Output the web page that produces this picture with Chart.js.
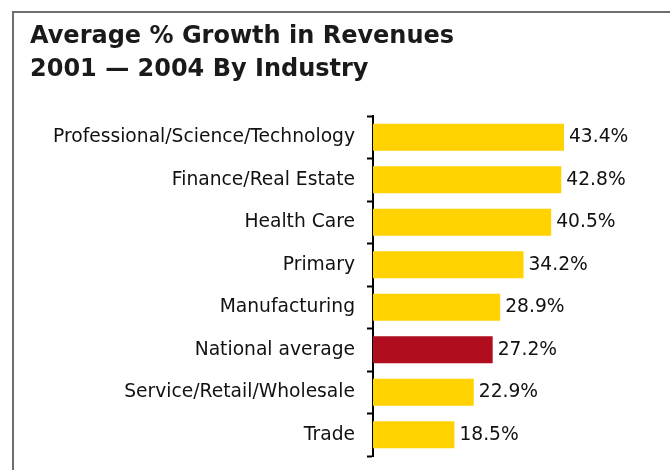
<!DOCTYPE html>
<html>
<head>
<meta charset="utf-8">
<script src="https://cdn.jsdelivr.net/npm/chart.js@4.4.0/dist/chart.umd.min.js"></script>
<style>
  html, body { margin: 0; padding: 0; background: #fff; }
  #wrap { width: 670px; height: 470px; position: relative; }
</style>
</head>
<body>
<div id="wrap"><canvas id="growthChart" width="670" height="470"></canvas></div>
<script>
var industries = ['Professional/Science/Technology', 'Finance/Real Estate', 'Health Care', 'Primary',
  'Manufacturing', 'National average', 'Service/Retail/Wholesale', 'Trade'];
var growth = [43.4, 42.8, 40.5, 34.2, 28.9, 27.2, 22.9, 18.5];
var titleLines = ['Average % Growth in Revenues', '2001 \u2014 2004 By Industry'];

var yellow = '#ffd200';
var red = '#b00d1e';
var barColors = industries.map(function(name){
  return name === 'National average' ? red : yellow;
});

// frame along the top and left edge
var framePlugin = {
  id: 'frame',
  beforeDraw: function(chart){
    var c = chart.ctx;
    c.save();
    c.strokeStyle = '#6e6e6e';
    c.lineWidth = 2;
    c.beginPath();
    c.moveTo(13, 470);
    c.lineTo(13, 12);
    c.lineTo(670, 12);
    c.stroke();
    c.restore();
  }
};

// percentage text at the end of each bar
var valuePlugin = {
  id: 'values',
  afterDatasetsDraw: function(chart){
    var c = chart.ctx;
    var meta = chart.getDatasetMeta(0);
    c.save();
    c.font = '18.7px "DejaVu Sans"';
    c.fillStyle = '#111';
    c.textBaseline = 'middle';
    meta.data.forEach(function(bar, i){
      c.fillText(growth[i].toFixed(1) + '%', bar.x + 5, bar.y);
    });
    c.restore();
  }
};

var ctx = document.getElementById('growthChart');
var chart = new Chart(ctx, {
  type: 'bar',
  data: {
    labels: industries,
    datasets: [{
      data: growth,
      backgroundColor: barColors,
      borderWidth: 0,
      barPercentage: 0.64,
      categoryPercentage: 1
    }]
  },
  options: {
    indexAxis: 'y',
    responsive: false,
    animation: false,
    layout: { padding: { left: 30, right: 33, top: 0, bottom: 14 } },
    plugins: {
      legend: { display: false },
      tooltip: { enabled: false },
      title: {
        display: true,
        text: titleLines,
        align: 'start',
        color: '#1a1a1a',
        font: { family: '"DejaVu Sans"', size: 24, weight: 'bold', lineHeight: 1.375 },
        padding: { top: 20, bottom: 30 }
      }
    },
    scales: {
      x: {
        display: false,
        min: 0,
        max: 60
      },
      y: {
        afterFit: function(scale){
          scale.width = 343;
          scale.paddingTop = 0;
          scale.paddingBottom = 0;
        },
        border: { display: true, color: '#000', width: 2 },
        grid: {
          drawOnChartArea: false,
          drawTicks: true,
          tickLength: 6,
          tickWidth: 2,
          tickColor: '#000',
          offset: true
        },
        ticks: {
          color: '#111',
          padding: 12,
          font: { family: '"DejaVu Sans"', size: 18.7 }
        }
      }
    }
  },
  plugins: [framePlugin, valuePlugin]
});
</script>
</body>
</html>
